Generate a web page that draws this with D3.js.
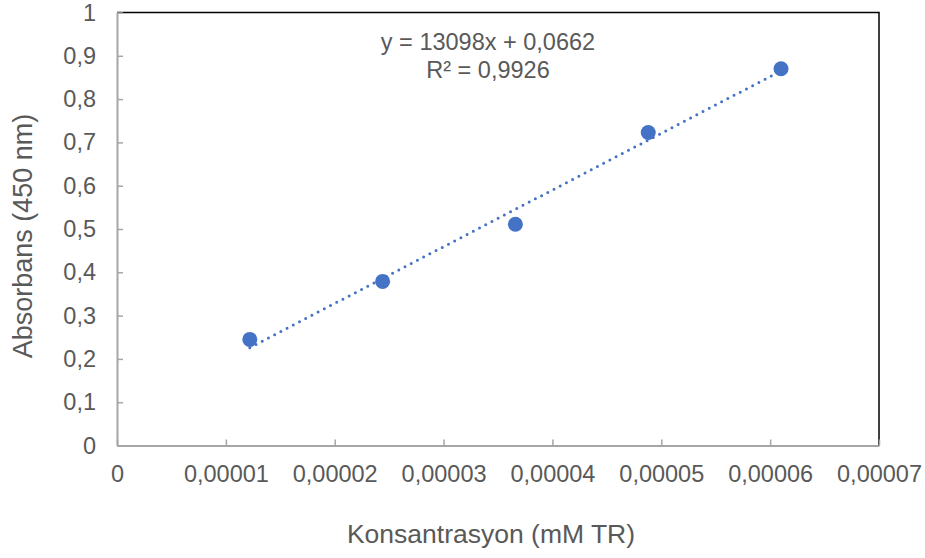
<html>
<head>
<meta charset="utf-8">
<title>Absorbans</title>
<style>
body { margin: 0; background: #fff; }
text { font-family: "Liberation Sans", Arial, sans-serif; fill: #595959; }
</style>
<script src="https://cdn.jsdelivr.net/npm/d3@7"></script>
</head>
<body>
<svg width="925" height="558"></svg>
<script>
var konsantrasyon = [0.0000122, 0.0000244, 0.0000366, 0.0000488, 0.000061];
var absorbans = [0.245, 0.379, 0.511, 0.723, 0.870];
var xTicks = [0, 0.00001, 0.00002, 0.00003, 0.00004, 0.00005, 0.00006, 0.00007];
var xTickLabels = ["0", "0,00001", "0,00002", "0,00003", "0,00004", "0,00005", "0,00006", "0,00007"];
var yTicks = [0, 0.1, 0.2, 0.3, 0.4, 0.5, 0.6, 0.7, 0.8, 0.9, 1];
var yTickLabels = ["0", "0,1", "0,2", "0,3", "0,4", "0,5", "0,6", "0,7", "0,8", "0,9", "1"];
var slope = 13098, intercept = 0.0662;
var eqLines = ["y = 13098x + 0,0662", "R\u00b2 = 0,9926"];

var svg = d3.select("svg"),
    margin = {top: 12.5, right: 46, bottom: 112.5, left: 117},
    width = 925 - margin.left - margin.right,
    height = 558 - margin.top - margin.bottom,
    g = svg.append("g").attr("transform", `translate(${margin.left},${margin.top})`);

var xScale = d3.scaleLinear().domain([0, 0.00007]).range([0, width]);
var yScale = d3.scaleLinear().domain([0, 1]).range([height, 0]);

// frame: top + right black
g.append("path")
    .attr("d", `M0,0H${width}V${height}`)
    .attr("fill", "none")
    .attr("stroke", "#000")
    .attr("stroke-width", 1.5);

// axes (ticks inside)
var xAxis = g.append("g")
    .attr("transform", `translate(0,${height})`)
    .call(d3.axisBottom(xScale).tickValues(xTicks).tickSizeInner(-6).tickSizeOuter(0)
        .tickFormat((d, i) => xTickLabels[i]));
var yAxis = g.append("g")
    .call(d3.axisLeft(yScale).tickValues(yTicks).tickSizeInner(-6).tickSizeOuter(0)
        .tickFormat((d, i) => yTickLabels[i]));

[xAxis, yAxis].forEach(a => {
    a.select(".domain").attr("stroke", "#a6a6a6").attr("stroke-width", 2);
    a.selectAll(".tick line").attr("stroke", "#a6a6a6").attr("stroke-width", 1.5);
    a.selectAll(".tick text").attr("fill", "#595959").style("font-size", "23.5px")
        .style("font-family", "Liberation Sans, Arial, sans-serif");
});
xAxis.selectAll(".tick text").attr("y", 20).attr("dy", "0.71em");
yAxis.selectAll(".tick text").attr("x", -21);

// trendline
var x0 = d3.min(konsantrasyon), x1 = d3.max(konsantrasyon);
g.append("line")
    .attr("x1", xScale(x0)).attr("y1", yScale(slope * x0 + intercept))
    .attr("x2", xScale(x1)).attr("y2", yScale(slope * x1 + intercept))
    .attr("stroke", "#4472c4")
    .attr("stroke-width", 3)
    .attr("stroke-linecap", "round")
    .attr("stroke-dasharray", "0 7");

// points
g.selectAll("circle")
    .data(konsantrasyon)
    .enter().append("circle")
    .attr("cx", d => xScale(d))
    .attr("cy", (d, i) => yScale(absorbans[i]))
    .attr("r", 7.5)
    .attr("fill", "#4472c4");

// equation
svg.selectAll(".eq")
    .data(eqLines)
    .enter().append("text")
    .attr("class", "eq")
    .attr("x", 488)
    .attr("y", (d, i) => 50 + i * 27.5)
    .attr("text-anchor", "middle")
    .style("font-size", "23.5px")
    .text(d => d);

// axis titles
svg.append("text")
    .attr("x", 491).attr("y", 543)
    .attr("text-anchor", "middle")
    .style("font-size", "26.5px")
    .text("Konsantrasyon (mM TR)");
svg.append("text")
    .attr("transform", "translate(32,236) rotate(-90)")
    .attr("text-anchor", "middle")
    .style("font-size", "27px")
    .text("Absorbans (450 nm)");
</script>
</body>
</html>
